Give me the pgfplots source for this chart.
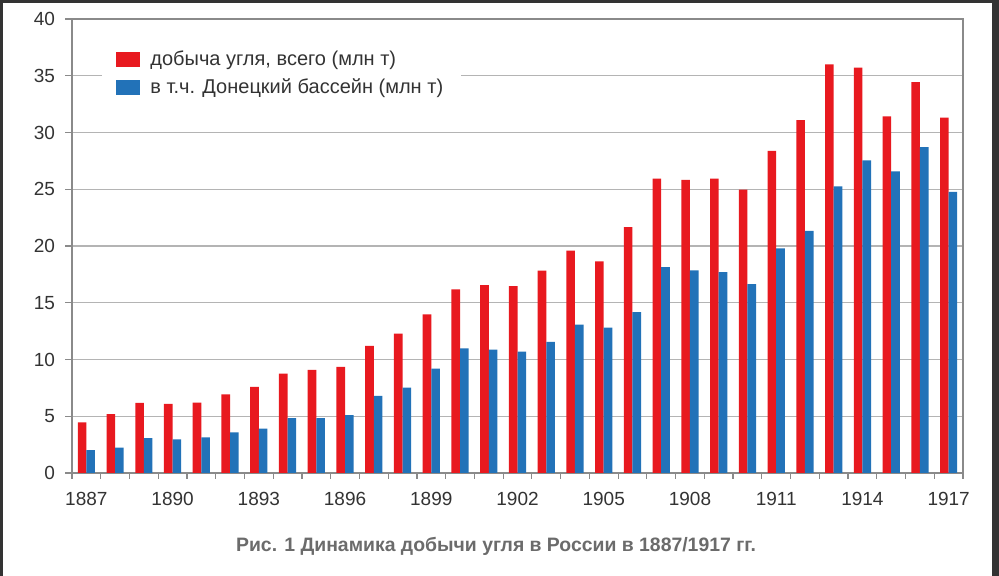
\documentclass[border=0pt]{standalone}
\usepackage{fontspec}
\setmainfont{Liberation Sans}
\usepackage{pgfplots}
\usepackage{pgfplotstable}
\pgfplotsset{compat=1.18}
\definecolor{barred}{HTML}{E8191F}
\definecolor{barblue}{HTML}{2272B8}
\definecolor{framegray}{HTML}{333333}
\definecolor{axgray}{HTML}{8A8A8A}
\definecolor{gridgray}{HTML}{B4B4B4}
\definecolor{txt}{HTML}{333333}
\definecolor{captxt}{HTML}{6B6B6B}
\pgfplotstableread{
x red blue
0 4.46 2.02
1 5.19 2.23
2 6.18 3.08
3 6.09 2.96
4 6.21 3.13
5 6.92 3.58
6 7.59 3.90
7 8.76 4.84
8 9.08 4.84
9 9.35 5.10
10 11.19 6.80
11 12.28 7.53
12 13.98 9.20
13 16.18 10.99
14 16.55 10.87
15 16.47 10.70
16 17.82 11.55
17 19.60 13.07
18 18.64 12.80
19 21.66 14.18
20 25.93 18.14
21 25.82 17.85
22 25.93 17.70
23 24.97 16.64
24 28.37 19.78
25 31.09 21.33
26 36.01 25.26
27 35.72 27.55
28 31.41 26.58
29 34.43 28.72
30 31.30 24.76
}\datatable
\begin{document}
\begin{tikzpicture}
\fill[framegray] (0,0) rectangle (499.5pt,288pt);
\fill[white] (1.5pt,0) rectangle (496pt,286.5pt);
\begin{axis}[
  at={(36pt,51.5pt)}, anchor=south west,
  scale only axis, width=445.5pt, height=227pt,
  xmin=-0.5, xmax=30.5, ymin=0, ymax=40,
  ybar=0pt, bar width=4.3pt,
  axis line style={axgray, line width=0.6pt},
  xtick={0,3,...,30},
  xticklabels={1887,1890,1893,1896,1899,1902,1905,1908,1911,1914,1917},
  major x tick style={draw=none},
  minor xtick={-0.5,0.5,...,30.5},
  minor tick length=3pt,
  minor x tick style={axgray, line width=0.6pt},
  ytick={0,5,...,40},
  major tick length=3.5pt,
  y tick style={axgray, line width=0.6pt},
  tick align=outside,
  tick pos=left,
  ymajorgrids,
  grid style={gridgray, line width=0.6pt},
  /pgf/number format/assume math mode=true,
  ticklabel style={font=\fontsize{9.5}{11}\selectfont, text=txt},
  xticklabel style={yshift=-2.5pt},
  yticklabel style={xshift=-1.5pt},
  legend style={at={(rel axis cs:0,1)}, anchor=north west, xshift=15pt, yshift=-9.5pt,
    draw=none, fill=white, inner xsep=7pt, inner ysep=4pt,
    font=\fontsize{10}{12}\selectfont, text=txt, row sep=1.5pt,
    nodes={inner xsep=2pt}},
  legend cell align=left,
  legend image code/.code={\fill[#1] (0pt,-3.75pt) rectangle (12pt,3.75pt);},
]
\addplot[draw=none, fill=barred] table[x=x, y=red] {\datatable};
\addlegendentry{\hspace*{3pt}добыча угля, всего (млн т)}
\addplot[draw=none, fill=barblue] table[x=x, y=blue] {\datatable};
\addlegendentry{\hspace*{3pt}в т.ч. Донецкий бассейн (млн т)}
\end{axis}
\node[font=\bfseries\fontsize{9.7}{11}\selectfont, text=captxt] at (248pt,15pt) {Рис. 1 Динамика добычи угля в России в 1887/1917 гг.};
\end{tikzpicture}
\end{document}
